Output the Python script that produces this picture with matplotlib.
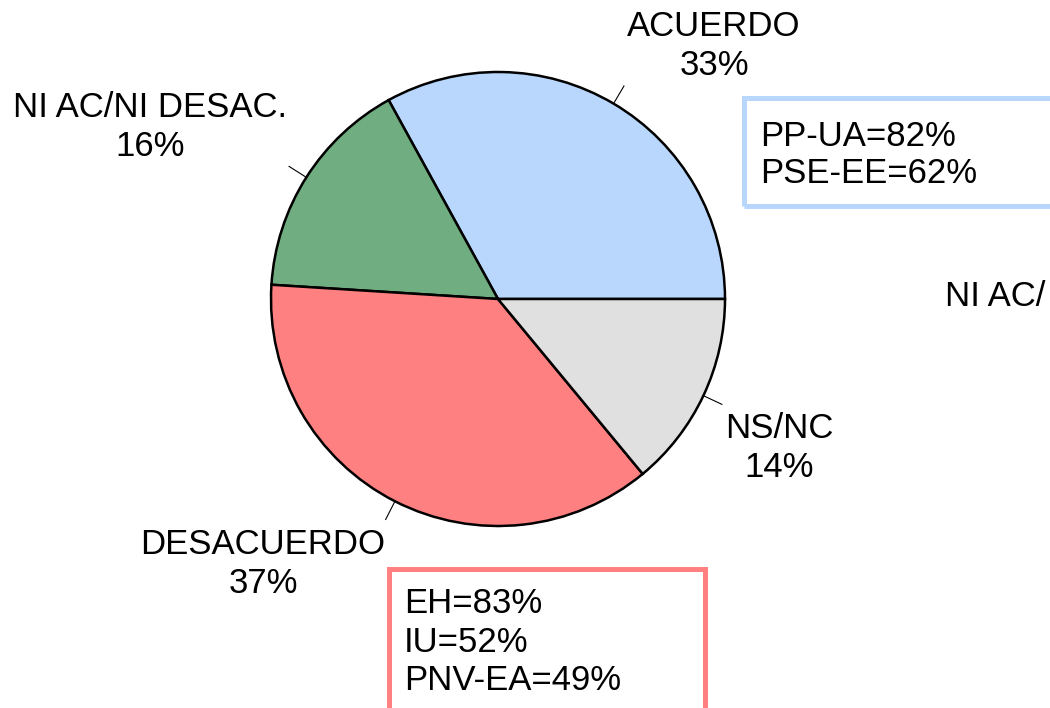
import matplotlib
matplotlib.use("Agg")
import matplotlib.pyplot as plt
import numpy as np
from matplotlib.patches import Rectangle

# data
categories = ["ACUERDO", "NI AC/NI DESAC.", "DESACUERDO", "NS/NC"]
values = [33, 16, 37, 14]
colors = ["#b9d7fc", "#70ad80", "#ff8080", "#e0e0e0"]
acuerdo_parties = ["PP-UA=82%", "PSE-EE=62%"]
desacuerdo_parties = ["EH=83%", "IU=52%", "PNV-EA=49%"]

W, H = 1050, 708
plt.rcParams["font.family"] = ["Liberation Sans", "DejaVu Sans"]

fig = plt.figure(figsize=(W / 100, H / 100), dpi=100)
ax = fig.add_axes([0, 0, 1, 1])


def py(y):
    # pixel row (top-down) -> data y
    return H - y


cx, cy, r = 498, py(299), 227
wedges, _ = ax.pie(values, colors=colors, startangle=0, counterclock=True,
                   center=(cx, cy), radius=r, frame=True,
                   wedgeprops=dict(edgecolor="black", linewidth=1.8))
ax.set_xlim(0, W)
ax.set_ylim(0, H)
ax.axis("off")

# leader ticks at mid angles
for w in wedges:
    mid = np.deg2rad((w.theta1 + w.theta2) / 2)
    x0, y0 = cx + r * np.cos(mid), cy + r * np.sin(mid)
    x1, y1 = cx + r * 1.09 * np.cos(mid), cy + r * 1.09 * np.sin(mid)
    ax.plot([x0, x1], [y0, y1], color="black", lw=0.8)

label_pos = [(714, 46), (150, 127), (263, 564), (779, 448)]
for cat, v, (lx, ly) in zip(categories, values, label_pos):
    ax.text(lx, py(ly), f"{cat}\n{v}%", ha="center", va="center",
            fontsize=25, linespacing=1.22)

# label of a neighbouring chart, cut by the figure edge
ax.text(945, py(297), "NI AC/", ha="left", va="center", fontsize=25)

# boxes
ax.add_patch(Rectangle((743.5, py(205.5)), 400, 108, fill=False,
                       edgecolor="#b9d7fc", lw=3.6))
ax.text(760, py(155), "\n".join(acuerdo_parties), ha="left", va="center",
        fontsize=25, linespacing=1.14)

ax.add_patch(Rectangle((388.5, py(800)), 316, 231.5, fill=False,
                       edgecolor="#ff8080", lw=3.6))
ax.text(404, py(642), "\n".join(desacuerdo_parties), ha="left", va="center",
        fontsize=25, linespacing=1.22)

fig.savefig("out.png", dpi=100)
